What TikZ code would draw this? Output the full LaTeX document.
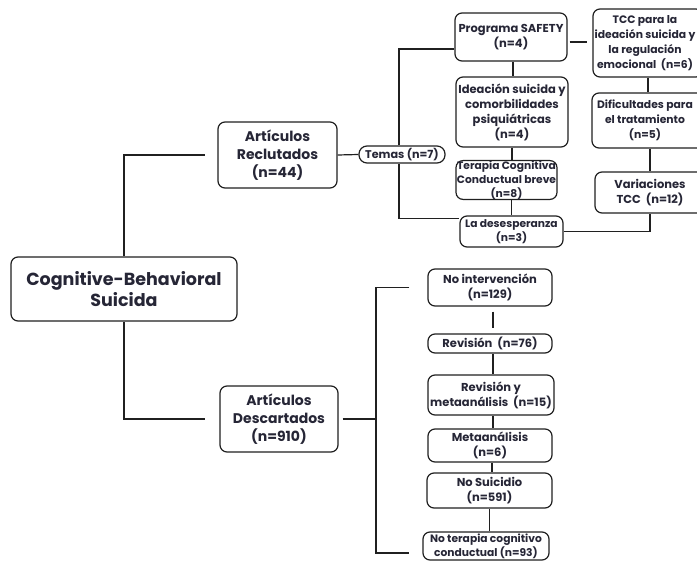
\documentclass[tikz,border=0pt]{standalone}
\usepackage{fontspec}
\setmainfont{Poppins}
\usetikzlibrary{backgrounds}
\definecolor{txt}{HTML}{262636}
\definecolor{ln}{HTML}{202020}
\tikzset{
  box/.style={draw=ln, line width=1.2pt, rounded corners=7pt, fill=white, align=center,
    inner sep=0pt, text=txt, font=\bfseries\fontsize{11.5}{15}\selectfont},
  big/.style={font=\bfseries\fontsize{17.5}{21}\selectfont},
  mid/.style={font=\bfseries\fontsize{14}{18}\selectfont},
  sm/.style={font=\bfseries\fontsize{10.7}{14}\selectfont},
  edge/.style={font=\bfseries\fontsize{10.8}{15}\selectfont},
  conn/.style={draw=ln, line width=1.2pt},
}
\begin{document}
\begin{tikzpicture}[x=1pt,y=-1pt]
\clip (0,0) rectangle (697,562);
% nodes
\node[box,big,minimum width=226pt,minimum height=64pt] (main) at (124,289) {Cognitive-Behavioral\\Suicida};
\node[box,mid,minimum width=119pt,minimum height=66pt] (rec) at (277.5,155) {Artículos\\Reclutados\\(n=44)};
\node[box,mid,minimum width=118pt,minimum height=66pt] (desc) at (279,419) {Artículos\\Descartados\\(n=910)};
\node[box,rounded corners=8pt,font=\bfseries\fontsize{11.2}{14}\selectfont,minimum width=86pt,minimum height=17pt] (temas) at (402,154.5) {Temas (n=7)};
\node[box,minimum width=112pt,minimum height=48pt] (prog) at (511,37) {Programa SAFETY\\(n=4)};
\node[box,minimum width=110pt,minimum height=68pt] (tcc) at (648,43) {};
\node[txt,edge,align=center,inner sep=0pt] (tcct) at (645,43) {TCC para la\\ideación suicida y\\la regulación\\emocional\ \ (n=6)};
\node[box,minimum width=112pt,minimum height=70pt] (ideac) at (512,112) {Ideación suicida y\\comorbilidades\\psiquiátricas\\(n=4)};
\node[box,sm,minimum width=101pt,minimum height=36pt] (ter) at (506.5,180) {Terapia Cognitiva\\Conductual breve\\(n=8)};
\node[box,sm,minimum width=103pt,minimum height=31pt] (des) at (511.5,231.5) {La desesperanza\\(n=3)};
\node[box,minimum width=112pt,minimum height=55pt] (dif) at (648,120.5) {};
\node[txt,edge,align=center,inner sep=0pt] (dift) at (645,120.5) {Dificultades para\\el tratamiento\\(n=5)};
\node[box,minimum width=110pt,minimum height=41pt] (var) at (650,192.5) {Variaciones\\TCC\ \ (n=12)};
\node[box,minimum width=124pt,minimum height=37pt] (noint) at (490,287.5) {No intervención\\(n=129)};
\node[box,minimum width=124pt,minimum height=19pt] (rev) at (490,343.5) {Revisión\ \ (n=76)};
\node[box,minimum width=126pt,minimum height=40pt] (revm) at (491,395) {Revisión y\\metaanálisis\ \ (n=15)};
\node[box,minimum width=124pt,minimum height=33pt] (meta) at (490,445.5) {Metaanálisis\\(n=6)};
\node[box,minimum width=125pt,minimum height=35pt] (nosu) at (489.5,490.5) {No Suicidio\\(n=591)};
\node[box,sm,minimum width=126pt,minimum height=28pt] (noter) at (486,546) {No terapia cognitivo\\conductual (n=93)};
\coordinate (brk) at (376,419);
% connectors
\begin{scope}[on background layer]
\draw[conn,shorten >=12pt] (main.north) |- (rec.west);
\draw[conn,shorten >=14pt] (main.south) |- (desc.west);
\draw[conn] (rec.east) -- (temas.west);
\draw[conn] ([xshift=-3pt]temas.north) |- ([yshift=-12pt]prog.west);
\draw[conn] ([xshift=-3pt]temas.south) |- ([yshift=13pt]des.west);
\draw[conn,shorten <=2pt,shorten >=5pt] ([yshift=-5pt]prog.east) -- ([yshift=-5pt]prog.east -| tcc.west);
\draw[conn] ([xshift=2pt]prog.south) -- ([xshift=2pt]prog.south |- ideac.north);
\draw[conn] (ideac.south) -- (ideac.south |- ter.north);
\draw[conn] (des.north |- ter.south) -- (des.north);
\draw[conn] (des.east) -| (var.south);
\draw[conn] (tcc.south) -- (tcc.south |- dif.north);
\draw[conn] (var.north |- dif.south) -- (var.north);
\draw[conn,shorten <=4pt] (desc.east) -- (brk);
\draw[conn] ([xshift=-18pt]noint.west) -| (brk) |- ([xshift=-13pt,yshift=-7pt]noter.west);
\draw[conn,shorten <=5pt,shorten >=5pt] ([xshift=3pt]noint.south) -- ([xshift=3pt]noint.south |- rev.north);
\draw[conn] ([xshift=3pt]rev.south) -- ([xshift=3pt]rev.south |- revm.north);
\draw[conn] ([xshift=2pt]revm.south) -- ([xshift=2pt]revm.south |- meta.north);
\draw[conn] ([xshift=2pt]meta.south) -- ([xshift=2pt]meta.south |- nosu.north);
\draw[conn] (nosu.south) -- (nosu.south |- noter.north);
\end{scope}
\end{tikzpicture}
\end{document}
